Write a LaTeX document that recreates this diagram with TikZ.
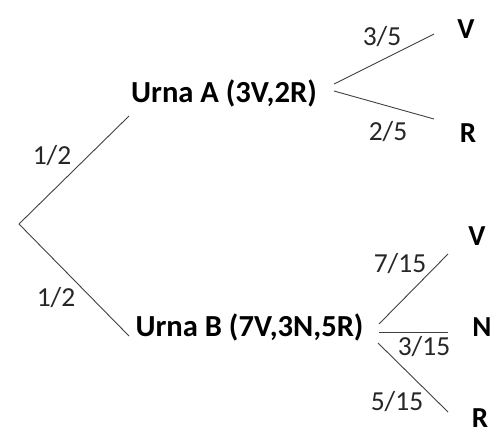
\documentclass[tikz,border=0pt]{standalone}
\usepackage{fontspec}
\setmainfont{Carlito}
\begin{document}
\begin{tikzpicture}[x=1pt,y=-1pt,
  urn/.style={font=\fontsize{30.6}{32}\selectfont\bfseries, inner sep=0pt},
  res/.style={font=\fontsize{29}{30}\selectfont\bfseries, inner sep=0pt},
  prob/.style={font=\fontsize{27.5}{30}\selectfont, inner sep=0pt, text=black!85},
  branch/.style={draw=black!75, line width=0.9pt}]
\useasboundingbox (0,0) rectangle (500,439);
% nodes
\node[urn] (A) at (224,93) {Urna A (3V,2R)};
\node[urn] (B) at (249.5,327) {Urna B (7V,3N,5R)};
\node[res] (AV) at (466,29) {V};
\node[res] (AR) at (468,133) {R};
\node[res] (BV) at (477,236) {V};
\node[res] (BN) at (482,327) {N};
\node[res] (BR) at (480,418) {R};
% branch points
\coordinate (root) at (19,224);
\coordinate (a0) at (129,116);
\coordinate (b0) at (129,336);
\coordinate (a1) at (334,84);
\coordinate (a2) at (334,91);
\coordinate (av) at (434,34);
\coordinate (ar) at (434,119);
\coordinate (b1) at (379,324);
\coordinate (b2) at (379,332);
\coordinate (b3) at (378,343);
\coordinate (bv) at (448,254);
\coordinate (bn) at (448,332);
\coordinate (br) at (448,412);
% connectors
\draw[branch] (root) -- (a0);
\draw[branch] (root) -- (b0);
\draw[branch] (a1) -- (av);
\draw[branch] (a2) -- (ar);
\draw[branch] (b1) -- (bv);
\draw[branch] (b2) -- (bn);
\draw[branch] (b3) -- (br);
% labels
\node[prob] (p1) at (52,156) {1/2};
\node[prob] (p2) at (56,298) {1/2};
\node[prob] (p3) at (382,37) {3/5};
\node[prob] (p4) at (388,132) {2/5};
\node[prob] (p5) at (400,264) {7/15};
\node[prob] (p6) at (424,347) {3/15};
\node[prob] (p7) at (397,402) {5/15};
\end{tikzpicture}
\end{document}
